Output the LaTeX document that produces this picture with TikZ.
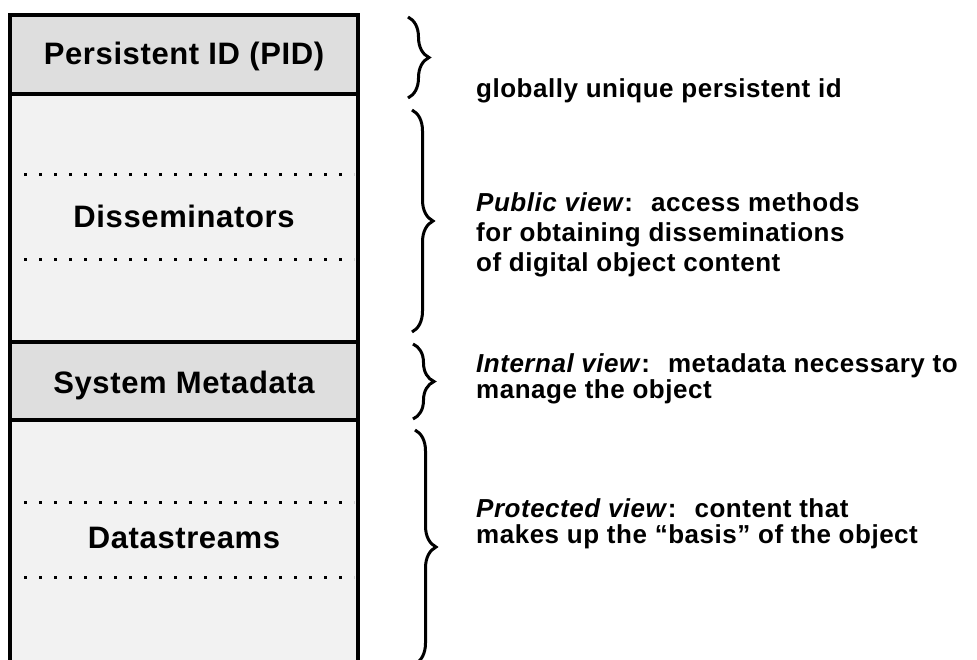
\documentclass[tikz,border=0pt]{standalone}
\usepackage{fontspec}
\setmainfont{Liberation Sans}
\usetikzlibrary{decorations.pathreplacing}
\tikzset{% change default arrow tips
    >=latex
}

\begin{document}
\begin{tikzpicture}[x=1pt,y=-1pt]
    		\newcommand{\boxl}{10}
    		\newcommand{\boxr}{358}
    		\newcommand{\boxc}{184} % centre of the object column
    		\newcommand{\notex}{476}
    		\newcommand{\bw}{4pt} % width of the box lines

    		% set the styles of the object parts
    		\tikzset{
    			header/.style={fill=black!13, draw, line width=\bw},
    			body/.style={fill=black!5, draw, line width=\bw},
    			label/.style={anchor=base, inner sep=0pt, font=\fontsize{31}{36}\selectfont\bfseries\addfontfeature{LetterSpace=2}},
    			note/.style={anchor=base west, align=left, inner sep=0pt, font=\fontsize{26}{26}\selectfont\bfseries\addfontfeature{LetterSpace=2}},
    			curly/.style={decorate, decoration={brace, amplitude=21pt}, line width=3pt},
    			dots/.style={line width=3pt, dash pattern=on 3pt off 12pt}
    		}

			\useasboundingbox (0,0) rectangle (977,660);

    		% object parts
    		\draw[body] (\boxl,420) rectangle (\boxr,690);
    		\draw[body] (\boxl,94) rectangle (\boxr,342);
    		\draw[header] (\boxl,15) rectangle (\boxr,94);
    		\draw[header] (\boxl,342) rectangle (\boxr,420);

    		% dotted rows
    		\foreach \y in {175,260,502,577}
    			\draw[dots] (\boxl+14,\y) -- (\boxr-4,\y);

    		% labels
    		\node[label] (pid) at (\boxc,65) {Persistent ID (PID)};
    		\node[label] (diss) at (\boxc,228) {Disseminators};
    		\node[label] (sysmeta) at (\boxc,393) {System Metadata};
    		\node[label] (dstreams) at (\boxc,548) {Datastreams};

    		% braces
    		\draw[curly] (408,17) -- (408,98);
    		\draw[curly] (412,110) -- (412,332);
    		\draw[curly] (413,344) -- (413,419);
    		\draw[curly] (415,430) -- (415,664);

    		% views (anchored at the baseline of the last line)
    		\node[note] (pidnote) at (\notex,98) {globally unique persistent id};
    		\node[note, font=\fontsize{26}{30}\selectfont\bfseries\addfontfeature{LetterSpace=2}] (pubnote) at (\notex,272)
    			{\textit{Public view}:~ access methods\\for obtaining disseminations\\of digital object content};
    		\node[note] (intnote) at (\notex,398)
    			{\textit{Internal view}:~ metadata necessary to\\manage the object};
    		\node[note] (protnote) at (\notex,543)
    			{\textit{Protected view}:~ content that\\makes up the “basis” of the object};
		\end{tikzpicture}
\end{document}
